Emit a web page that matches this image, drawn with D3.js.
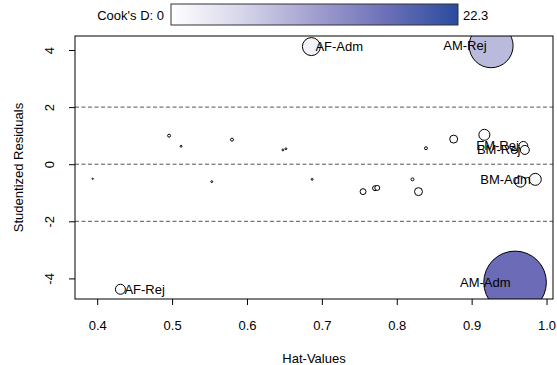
<!DOCTYPE html>
<html>
<head>
<meta charset="utf-8">
<script src="https://cdn.jsdelivr.net/npm/d3@7"></script>
<style>
  body { margin: 0; background: #fff; }
  text { font-family: "Liberation Sans", Arial, sans-serif; font-size: 13px; fill: #000; }
</style>
</head>
<body>
<svg id="chart" width="557" height="365"></svg>
<script>
// Influence plot: hat-values vs studentized residuals, bubble area ~ Cook's D
const hatValues = [0.394, 0.496, 0.512, 0.580, 0.553, 0.648, 0.652, 0.687,
                   0.839, 0.876, 0.917, 0.969, 0.971, 0.821, 0.755, 0.771,
                   0.774, 0.829, 0.985, 0.965, 0.686, 0.926, 0.431, 0.958];
const studentRes = [-0.51, 1.00, 0.63, 0.86, -0.61, 0.50, 0.54, -0.53,
                    0.56, 0.88, 1.03, 0.64, 0.50, -0.53, -0.96, -0.84,
                    -0.83, -0.96, -0.53, -0.61, 4.12, 4.15, -4.38, -4.14];
const cooksD = [0.01, 0.05, 0.02, 0.05, 0.02, 0.02, 0.02, 0.02,
                0.05, 0.36, 0.69, 0.46, 0.46, 0.05, 0.20, 0.14,
                0.14, 0.36, 0.82, 0.69, 1.84, 11.0, 0.57, 22.3];
const pointLabels = [null, null, null, null, null, null, null, null,
                     null, null, null, "FM-Rej", "BM-Rej", null, null, null,
                     null, null, "BM-Adm", null, "AF-Adm", "AM-Rej", "AF-Rej", "AM-Adm"];
const xTicks = [0.4, 0.5, 0.6, 0.7, 0.8, 0.9, 1.0];
const yTicks = [-4, -2, 0, 2, 4];
const refLines = [-2, 0, 2];
const cookRange = [0, 22.3];
const barColors = ["#ffffff", "#d6d5ea", "#a29fcf", "#6b70b7", "#2a4b9e"];
const bubbleColors = ["#ffffff", "#b9b9dd", "#6b6bb8"];

const points = hatValues.map((h, i) => ({
  hat: h, res: studentRes[i], cook: cooksD[i], label: pointLabels[i]
}));

const svg = d3.select("#chart");
const box = { left: 75, right: 553, top: 36, bottom: 299 };

// 4% padding around the data range on both axes
function padded(values) {
  const [lo, hi] = d3.extent(values);
  const p = (hi - lo) * 0.04;
  return [lo - p, hi + p];
}
const x = d3.scaleLinear().domain(padded(hatValues)).range([box.left, box.right]);
const y = d3.scaleLinear().domain(padded(studentRes)).range([box.bottom, box.top]);
const r = d3.scaleSqrt().domain(cookRange).range([0, 31.3]);
const fill = d3.scaleLinear()
  .domain([cookRange[0], cookRange[1] / 2, cookRange[1]])
  .range(bubbleColors);

svg.append("defs").append("clipPath").attr("id", "plotClip")
  .append("rect")
  .attr("x", box.left).attr("y", box.top)
  .attr("width", box.right - box.left).attr("height", box.bottom - box.top);

// reference lines
svg.append("g").selectAll("line").data(refLines).join("line")
  .attr("x1", box.left).attr("x2", box.right)
  .attr("y1", d => y(d)).attr("y2", d => y(d))
  .attr("stroke", "#555").attr("stroke-width", 1)
  .attr("stroke-dasharray", "4,2.5");

// bubbles
svg.append("g").attr("clip-path", "url(#plotClip)")
  .selectAll("circle").data(points).join("circle")
  .attr("cx", d => x(d.hat)).attr("cy", d => y(d.res))
  .attr("r", d => r(d.cook))
  .attr("fill", d => fill(d.cook))
  .attr("stroke", "#000").attr("stroke-width", 1);

// labels: left of the point on the right half, right of it otherwise
const xMid = d3.mean(x.domain());
svg.append("g").selectAll("text").data(points.filter(d => d.label)).join("text")
  .attr("x", d => d.hat > xMid ? x(d.hat) - 4.5 : x(d.hat) + 4)
  .attr("y", d => y(d.res))
  .attr("dy", "0.35em")
  .attr("text-anchor", d => d.hat > xMid ? "end" : "start")
  .text(d => d.label);

// plot frame
svg.append("rect")
  .attr("x", box.left).attr("y", box.top)
  .attr("width", box.right - box.left).attr("height", box.bottom - box.top)
  .attr("fill", "none").attr("stroke", "#000").attr("stroke-width", 1);

// x axis
const gx = svg.append("g").attr("transform", `translate(0,${box.bottom})`)
  .call(d3.axisBottom(x).tickValues(xTicks).tickFormat(d => d.toFixed(1)).tickSize(6).tickSizeOuter(0));
gx.select(".domain").remove();
gx.selectAll("text").attr("y", 0).attr("dy", 0)
  .attr("transform", "translate(0,30.5)").style("font-size", "13px")
  .style("font-family", "'Liberation Sans', Arial, sans-serif");

// y axis, labels parallel to the axis, plain hyphen for negatives
const gy = svg.append("g").attr("transform", `translate(${box.left},0)`)
  .call(d3.axisLeft(y).tickValues(yTicks).tickFormat(d => String(d)).tickSize(6).tickSizeOuter(0));
gy.select(".domain").remove();
gy.selectAll("text")
  .attr("x", 0).attr("dy", 0)
  .attr("text-anchor", "middle")
  .attr("transform", "translate(-21,0) rotate(-90)")
  .style("font-size", "13px")
  .style("font-family", "'Liberation Sans', Arial, sans-serif");

// axis titles
svg.append("text").attr("x", (box.left + box.right) / 2).attr("y", 363)
  .attr("text-anchor", "middle").text("Hat-Values");
svg.append("text")
  .attr("transform", `translate(23,${(box.top + box.bottom) / 2}) rotate(-90)`)
  .attr("text-anchor", "middle").text("Studentized Residuals");

// Cook's D colour bar
const grad = svg.select("defs").append("linearGradient").attr("id", "cookGrad");
grad.selectAll("stop").data(barColors).join("stop")
  .attr("offset", (d, i) => i / (barColors.length - 1))
  .attr("stop-color", d => d);
const bar = { x0: 171, x1: 458, y0: 4, y1: 25 };
svg.append("rect")
  .attr("x", bar.x0).attr("y", bar.y0)
  .attr("width", bar.x1 - bar.x0).attr("height", bar.y1 - bar.y0)
  .attr("fill", "url(#cookGrad)").attr("stroke", "#333").attr("stroke-width", 1);
svg.append("text").attr("x", bar.x0 - 7).attr("y", 19.5)
  .attr("text-anchor", "end").text(`Cook's D: ${cookRange[0]}`);
svg.append("text").attr("x", bar.x1 + 5).attr("y", 19.5)
  .attr("text-anchor", "start").text(cookRange[1]);
</script>
</body>
</html>
